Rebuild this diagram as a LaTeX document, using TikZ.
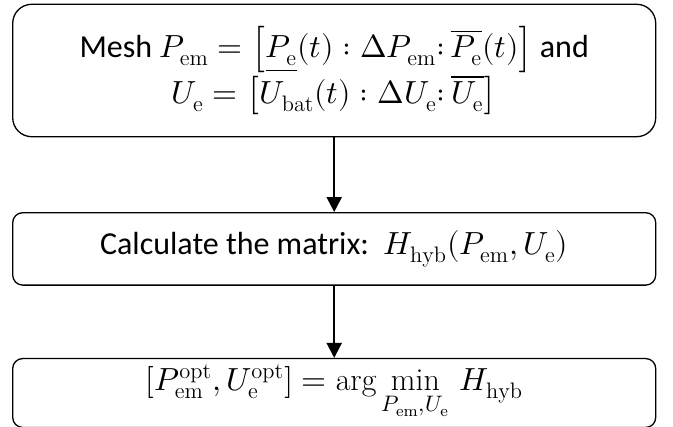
\documentclass[tikz,border=0pt]{standalone}
\usepackage{fontspec}
\usepackage{unicode-math}
\setmainfont{Carlito}
\setmathfont{Latin Modern Math}
\setmathrm{Latin Modern Roman}
\usetikzlibrary{arrows.meta}

\begin{document}
\begin{tikzpicture}[x=0.5pt, y=-0.5pt,
  stepbox/.style={draw, line width=0.65pt, rounded corners=5pt, minimum width=321.5pt,
    align=center, font=\fontsize{16}{19}\selectfont},
  flow/.style={line width=1pt, -{Triangle[length=7.5pt,width=7.5pt]}}]
  \useasboundingbox (0,0) rectangle (673,427);
  \node[stepbox, rounded corners=9.5pt, minimum height=66.2pt] (mesh) at (334.2,70.5)
    {Mesh $P_{\mathrm{em}}=\left[\underline{P_{\mathrm{e}}}(t)\mathrel{:}\Delta P_{\mathrm{em}}{:}\,\overline{P_{\mathrm{e}}}(t)\right]$ and\\
     $U_{\mathrm{e}}=\left[U_{\mathrm{bat}}(t)\mathrel{:}\Delta U_{\mathrm{e}}{:}\,\overline{U_{\mathrm{e}}}\right]$};
  \node[stepbox, minimum height=36.2pt] (calc) at (334.2,248.9)
    {Calculate the matrix:\ \ $H_{\mathrm{hyb}}(P_{\mathrm{em}},U_{\mathrm{e}})$};
  \node[stepbox, minimum height=33pt] (opt) at (334.2,393)
    {$[P_{\mathrm{em}}^{\mathrm{opt}},U_{\mathrm{e}}^{\mathrm{opt}}]=\arg\min\limits_{P_{\mathrm{em}},U_{\mathrm{e}}}\,H_{\mathrm{hyb}}$};
  \draw[flow] (mesh) -- (calc);
  \draw[flow] (calc) -- (opt);
\end{tikzpicture}
\end{document}
